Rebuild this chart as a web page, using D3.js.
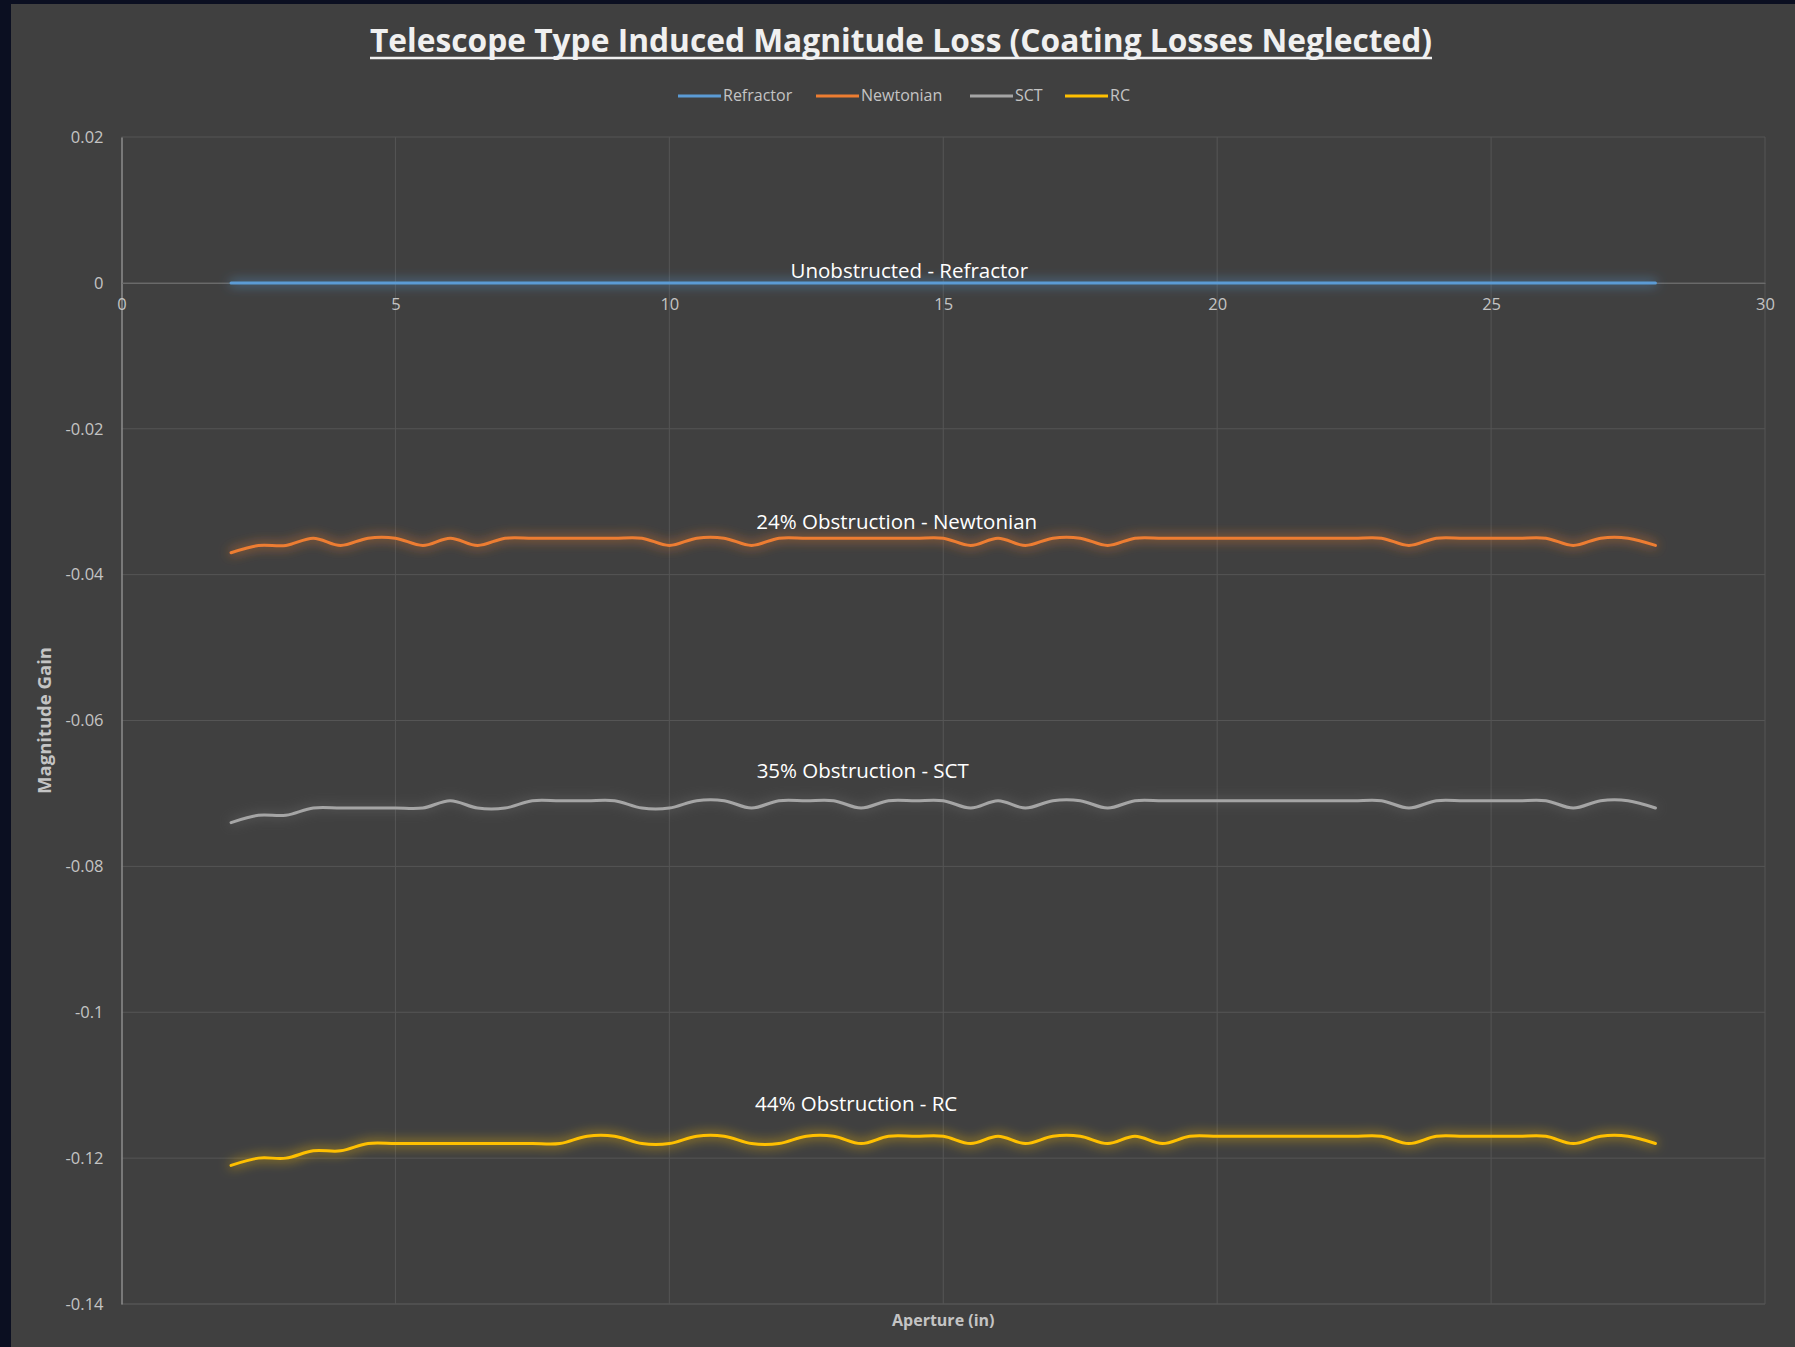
<!DOCTYPE html>
<html>
<head>
<meta charset="utf-8">
<script src="https://cdn.jsdelivr.net/npm/d3@7"></script>
<style>
  html, body { margin: 0; padding: 0; background: #0b0f21; }
  svg { display: block; }
</style>
</head>
<body>
<svg id="chart" width="1795" height="1347"></svg>
<script>
// Aperture in inches (x values)
const aperture = [2,2.5,3,3.5,4,4.5,5,5.5,6,6.5,7,7.5,8,8.5,9,9.5,10,10.5,11,11.5,12,12.5,13,13.5,14,14.5,15,15.5,16,16.5,17,17.5,18,18.5,19,19.5,20,20.5,21,21.5,22,22.5,23,23.5,24,24.5,25,25.5,26,26.5,27,27.5,28];

// Magnitude gain per telescope type
const refractor = [0,0,0,0,0,0,0,0,0,0, 0,0,0,0,0,0,0,0,0,0, 0,0,0,0,0,0,0,0,0,0, 0,0,0,0,0,0,0,0,0,0, 0,0,0,0,0,0,0,0,0,0, 0,0,0];
const newtonian = [
  -0.037,-0.036,-0.036,-0.035,-0.036,-0.035,-0.035,-0.036,-0.035,-0.036,
  -0.035,-0.035,-0.035,-0.035,-0.035,-0.035,-0.036,-0.035,-0.035,-0.036,
  -0.035,-0.035,-0.035,-0.035,-0.035,-0.035,-0.035,-0.036,-0.035,-0.036,
  -0.035,-0.035,-0.036,-0.035,-0.035,-0.035,-0.035,-0.035,-0.035,-0.035,
  -0.035,-0.035,-0.035,-0.036,-0.035,-0.035,-0.035,-0.035,-0.035,-0.036,
  -0.035,-0.035,-0.036];
const sct = [
  -0.074,-0.073,-0.073,-0.072,-0.072,-0.072,-0.072,-0.072,-0.071,-0.072,
  -0.072,-0.071,-0.071,-0.071,-0.071,-0.072,-0.072,-0.071,-0.071,-0.072,
  -0.071,-0.071,-0.071,-0.072,-0.071,-0.071,-0.071,-0.072,-0.071,-0.072,
  -0.071,-0.071,-0.072,-0.071,-0.071,-0.071,-0.071,-0.071,-0.071,-0.071,
  -0.071,-0.071,-0.071,-0.072,-0.071,-0.071,-0.071,-0.071,-0.071,-0.072,
  -0.071,-0.071,-0.072];
const rc = [
  -0.121,-0.120,-0.120,-0.119,-0.119,-0.118,-0.118,-0.118,-0.118,-0.118,
  -0.118,-0.118,-0.118,-0.117,-0.117,-0.118,-0.118,-0.117,-0.117,-0.118,
  -0.118,-0.117,-0.117,-0.118,-0.117,-0.117,-0.117,-0.118,-0.117,-0.118,
  -0.117,-0.117,-0.118,-0.117,-0.118,-0.117,-0.117,-0.117,-0.117,-0.117,
  -0.117,-0.117,-0.117,-0.118,-0.117,-0.117,-0.117,-0.117,-0.117,-0.118,
  -0.117,-0.117,-0.118];

const seriesNames = ["Refractor", "Newtonian", "SCT", "RC"];
const seriesColors = ["#5b9bd5", "#ed7d31", "#a5a5a5", "#ffc000"];
const seriesValues = [refractor, newtonian, sct, rc];

// In-plot annotations: text, anchor x (in), anchor y (mag)
const noteTexts = ["Unobstructed - Refractor", "24% Obstruction - Newtonian", "35% Obstruction - SCT", "44% Obstruction - RC"];
const noteX = [14.38, 14.15, 13.53, 13.41];
const noteY = [0.0006, -0.0337, -0.0679, -0.1136];

const xTicks = [0, 5, 10, 15, 20, 25, 30];
const yTicks = [0.02, 0, -0.02, -0.04, -0.06, -0.08, -0.1, -0.12, -0.14];

const W = 1795, H = 1347;
const plot = { left: 121.5, right: 1765, top: 137, bottom: 1304 };

const svg = d3.select("#chart");
const FONT = "'Open Sans', 'Noto Sans', sans-serif";

// Panel background
svg.append("rect").attr("x", 0).attr("y", 0).attr("width", W).attr("height", H).attr("fill", "#0b0f21");
svg.append("rect").attr("x", 11).attr("y", 4).attr("width", W - 11).attr("height", H - 4).attr("fill", "#404040");

const x = d3.scaleLinear().domain([0, 30]).range([plot.left, plot.right]);
const y = d3.scaleLinear().domain([-0.14, 0.02]).range([plot.bottom, plot.top]);

// Glow filters (user-space region so flat lines still get a halo)
const defs = svg.append("defs");
seriesColors.forEach((c, i) => {
  const f = defs.append("filter").attr("id", "glow" + i)
    .attr("filterUnits", "userSpaceOnUse")
    .attr("x", 0).attr("y", 0).attr("width", W).attr("height", H);
  f.append("feGaussianBlur").attr("in", "SourceGraphic").attr("stdDeviation", 6).attr("result", "b");
  f.append("feComponentTransfer").attr("in", "b").attr("result", "b2")
    .append("feFuncA").attr("type", "linear").attr("slope", i === 2 ? 0.5 : 1.1);
  const m = f.append("feMerge");
  m.append("feMergeNode").attr("in", "b2");
  m.append("feMergeNode").attr("in", "SourceGraphic");
});

// Gridlines
const grid = svg.append("g");
grid.selectAll("line.h").data(yTicks).join("line")
  .attr("x1", plot.left).attr("x2", plot.right)
  .attr("y1", d => y(d)).attr("y2", d => y(d))
  .attr("stroke", d => d === -0.14 ? "#5e5e5e" : "#555555").attr("stroke-width", 1);
grid.selectAll("line.v").data(xTicks.filter(d => d > 0)).join("line")
  .attr("x1", d => x(d)).attr("x2", d => x(d))
  .attr("y1", plot.top).attr("y2", plot.bottom)
  .attr("stroke", "#555555").attr("stroke-width", 1);

// Y axis (left)
const yAxis = d3.axisLeft(y).tickValues(yTicks).tickSize(0).tickPadding(18)
  .tickFormat(d => String(+d.toFixed(2)));
const gy = svg.append("g").attr("transform", `translate(${plot.left},0)`).call(yAxis);
gy.select(".domain").attr("stroke", "#8c8c8c").attr("stroke-width", 1.5);
gy.selectAll("text").attr("fill", "#c4c4c4").style("font-family", FONT).style("font-size", "16.5px");

// X axis crossing at zero
const xAxis = d3.axisBottom(x).tickValues(xTicks).tickSize(0).tickPadding(15).tickFormat(d => String(d));
const gx = svg.append("g").attr("transform", `translate(0,${y(0)})`).call(xAxis);
gx.select(".domain").attr("stroke", "#6a6a6a").attr("stroke-width", 1.2);
gx.selectAll("text").attr("fill", "#c4c4c4").style("font-family", FONT).style("font-size", "16.5px");

// Series lines
const line = d3.line().x((d, i) => x(aperture[i])).y(d => y(d)).curve(d3.curveCatmullRom.alpha(0));
seriesValues.forEach((vals, i) => {
  svg.append("path").datum(vals)
    .attr("d", line)
    .attr("fill", "none")
    .attr("stroke", seriesColors[i])
    .attr("stroke-width", 3)
    .attr("stroke-linecap", "round")
    .attr("filter", `url(#glow${i})`);
});

// Annotations
svg.selectAll("text.note").data(noteTexts).join("text")
  .attr("class", "note")
  .attr("x", (d, i) => x(noteX[i]))
  .attr("y", (d, i) => y(noteY[i]))
  .attr("text-anchor", "middle")
  .attr("fill", "#ffffff")
  .style("font-family", FONT)
  .style("font-size", "20.5px")
  .text(d => d);

// Title
svg.append("text")
  .attr("x", 901).attr("y", 52)
  .attr("text-anchor", "middle")
  .attr("fill", "#f0f0f0")
  .attr("textLength", 1062).attr("lengthAdjust", "spacingAndGlyphs")
  .style("font-family", FONT).style("font-size", "33px").style("font-weight", "bold")
  .text("Telescope Type Induced Magnitude Loss (Coating Losses Neglected)");
svg.append("line").attr("x1", 370).attr("x2", 1432).attr("y1", 58).attr("y2", 58)
  .attr("stroke", "#f0f0f0").attr("stroke-width", 2.5);

// Legend
const legendX = [678, 816, 970, 1065];
const legend = svg.append("g");
seriesNames.forEach((n, i) => {
  legend.append("line").attr("x1", legendX[i]).attr("x2", legendX[i] + 43)
    .attr("y1", 96).attr("y2", 96).attr("stroke", seriesColors[i]).attr("stroke-width", 3);
  legend.append("text").attr("x", legendX[i] + 45).attr("y", 101)
    .attr("fill", "#c4c4c4").style("font-family", FONT).style("font-size", "16px").text(n);
});

// Axis titles
svg.append("text").attr("x", x(15)).attr("y", 1326).attr("text-anchor", "middle")
  .attr("fill", "#c4c4c4").style("font-family", FONT).style("font-size", "16px").style("font-weight", "bold")
  .text("Aperture (in)");
svg.append("text").attr("transform", `translate(51,${(plot.top + plot.bottom) / 2}) rotate(-90)`)
  .attr("text-anchor", "middle")
  .attr("fill", "#c4c4c4").style("font-family", FONT).style("font-size", "18.5px").style("font-weight", "bold")
  .text("Magnitude Gain");
</script>
</body>
</html>
